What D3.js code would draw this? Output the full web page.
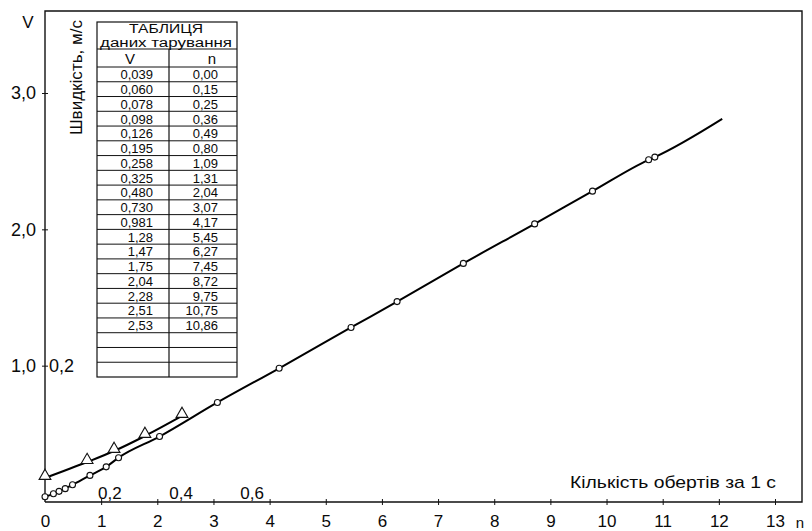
<!DOCTYPE html>
<html><head><meta charset="utf-8">
<script src="https://cdn.jsdelivr.net/npm/d3@7"></script>
<style>
body{margin:0;background:#fff}
text{font-family:"Liberation Sans",Arial,Helvetica,sans-serif;fill:#0a0a0a}
</style>
</head><body>
<svg id="c" width="812" height="531"></svg>
<script>
// ---- data ----
const tableV = ["0,039","0,060","0,078","0,098","0,126","0,195","0,258","0,325","0,480","0,730","0,981","1,28","1,47","1,75","2,04","2,28","2,51","2,53"];
const tableN = ["0,00","0,15","0,25","0,36","0,49","0,80","1,09","1,31","2,04","3,07","4,17","5,45","6,27","7,45","8,72","9,75","10,75","10,86"];
const emptyRows = 3;
const lineEndN = [12.06];
const lineEndV = [2.81];
const triN = [0, 0.75, 1.23, 1.78, 2.44];
const triV = [0.176, 0.293, 0.374, 0.484, 0.631];
const xTicks = [0,1,2,3,4,5,6,7,8,9,10,11,12,13];
const yTicks = [1,2,3];
const xSecTicks = [0.2,0.4,0.6];
const ySecTicks = [0.2];

const toNum = s => +s.replace(",", ".");
const circV = tableV.map(toNum);
const circN = tableN.map(toNum);

const svg = d3.select("#c");
const ink = "#111";
const loc = d3.formatLocale({decimal:",", thousands:" ", grouping:[3], currency:["",""]});
const f1 = loc.format(".1f");

const x = d3.scaleLinear().domain([0,13]).range([45,775]);
const y = d3.scaleLinear().domain([0,3]).range([502,93]);
const xSec = d3.scaleLinear().domain([0,0.6]).range([x(0.1), x(3.9)]);
const ySec = d3.scaleLinear().domain([0,0.2]).range([y(0), y(1)]);

// frame
const fRight = 802, fTop = 11, fBottom = y(0);
svg.append("path").attr("d", `M${x(0)},${fBottom}V${fTop}H${fRight}V${fBottom}H${x(0)}`)
  .attr("fill","none").attr("stroke",ink).attr("stroke-width",1.4);

// x axis
const gx = svg.append("g").attr("transform",`translate(0,${fBottom})`)
  .call(d3.axisBottom(x).tickValues(xTicks).tickFormat(d3.format("d")).tickSizeInner(3).tickSizeOuter(0).tickPadding(10));
gx.select(".domain").remove();
gx.selectAll(".tick line").attr("y1",-3).attr("y2",3).attr("stroke",ink).filter(d=>d===0).remove();
gx.selectAll(".tick text").attr("font-size",17).attr("fill","#0a0a0a");
svg.append("text").attr("x",800).attr("y",528).attr("font-size",15).attr("text-anchor","middle").text("n");

// secondary x labels
svg.selectAll(".xsec").data(xSecTicks).join("text").attr("class","xsec")
  .attr("x",d=>xSec(d)).attr("y",fBottom-3).attr("text-anchor","end").attr("font-size",17)
  .text(d=>f1(d));

// y axis
const gy = svg.append("g").attr("transform",`translate(${x(0)},0)`)
  .call(d3.axisLeft(y).tickValues(yTicks).tickFormat(f1).tickSizeInner(3).tickSizeOuter(0).tickPadding(6));
gy.select(".domain").remove();
gy.selectAll(".tick line").attr("x1",-3).attr("x2",3).attr("stroke",ink);
gy.selectAll(".tick text").attr("font-size",18).attr("fill","#0a0a0a");
svg.selectAll(".ysec").data(ySecTicks).join("text").attr("class","ysec")
  .attr("x",x(0)+4).attr("y",d=>ySec(d)).attr("dy","0.36em").attr("font-size",18).text(d=>f1(d));
svg.append("text").attr("x",28).attr("y",28).attr("font-size",17).attr("text-anchor","middle").text("V");
svg.append("text").attr("transform","translate(82,20) rotate(-90)").attr("text-anchor","end")
  .attr("font-size",16.5).attr("textLength",115).attr("lengthAdjust","spacingAndGlyphs").text("Швидкість, м/с");

svg.append("text").attr("x",776).attr("y",488).attr("text-anchor","end").attr("font-size",17)
  .attr("textLength",206).attr("lengthAdjust","spacingAndGlyphs").text("Кількість обертів за 1 с");

// lines
const mainPts = circN.map((n,i)=>({n, v:circV[i]})).concat(lineEndN.map((n,i)=>({n, v:lineEndV[i]})));
const line = d3.line().x(d=>x(d.n)).y(d=>y(d.v)).curve(d3.curveMonotoneX);
svg.append("path").attr("d", line(mainPts)).attr("fill","none").attr("stroke","#000").attr("stroke-width",2);
const triPts = triN.map((n,i)=>({n, v:triV[i]}));
svg.append("path").attr("d", line(triPts)).attr("fill","none").attr("stroke","#000").attr("stroke-width",2);

// markers
svg.selectAll(".pt").data(circN.map((n,i)=>({n, v:circV[i]}))).join("circle").attr("class","pt")
  .attr("cx",d=>x(d.n)).attr("cy",d=>y(d.v)).attr("r",3)
  .attr("fill","#fff").attr("stroke",ink).attr("stroke-width",1.1);
const tri = d3.symbol().type(d3.symbolTriangle).size(60);
svg.selectAll(".tri").data(triPts).join("path").attr("class","tri")
  .attr("transform",d=>`translate(${x(d.n)},${y(d.v)-2})`).attr("d",tri())
  .attr("fill","#fff").attr("stroke",ink).attr("stroke-width",1.1);

// table
const tX0 = 97, tX1 = 237, tDiv = 169, tTop = 22, tTitle = 49, tHead = 67, tBot = 377;
const nRows = tableV.length + emptyRows;
const rowH = (tBot - tHead) / nRows;
const tb = svg.append("g");
tb.append("rect").attr("x",tX0).attr("y",tTop).attr("width",tX1-tX0).attr("height",tBot-tTop)
  .attr("fill","#fff").attr("stroke",ink).attr("stroke-width",1.2);
tb.append("line").attr("x1",tX0).attr("x2",tX1).attr("y1",tTitle).attr("y2",tTitle).attr("stroke",ink);
tb.append("line").attr("x1",tDiv).attr("x2",tDiv).attr("y1",tTitle).attr("y2",tBot).attr("stroke",ink).attr("stroke-width",1.2);
tb.selectAll(".rl").data(d3.range(nRows)).join("line").attr("class","rl")
  .attr("x1",tX0).attr("x2",tX1).attr("y1",i=>tHead+i*rowH).attr("y2",i=>tHead+i*rowH)
  .attr("stroke",ink).attr("stroke-width",1);
tb.append("text").attr("x",166).attr("y",32.5).attr("text-anchor","middle").attr("font-size",13)
  .attr("textLength",74).attr("lengthAdjust","spacingAndGlyphs").text("ТАБЛИЦЯ");
tb.append("text").attr("x",166).attr("y",46.5).attr("text-anchor","middle").attr("font-size",12.5)
  .attr("textLength",132).attr("lengthAdjust","spacingAndGlyphs").text("даних тарування");
tb.append("text").attr("x",130).attr("y",63.5).attr("text-anchor","middle").attr("font-size",15).text("V");
tb.append("text").attr("x",212).attr("y",63.5).attr("text-anchor","middle").attr("font-size",15).text("n");
tb.selectAll(".tv").data(tableV).join("text").attr("class","tv")
  .attr("x",153).attr("y",(d,i)=>tHead+i*rowH+12.3).attr("text-anchor","end").attr("font-size",13).text(d=>d);
tb.selectAll(".tn").data(tableN).join("text").attr("class","tn")
  .attr("x",218).attr("y",(d,i)=>tHead+i*rowH+12.3).attr("text-anchor","end").attr("font-size",13).text(d=>d);
</script>
</body></html>
